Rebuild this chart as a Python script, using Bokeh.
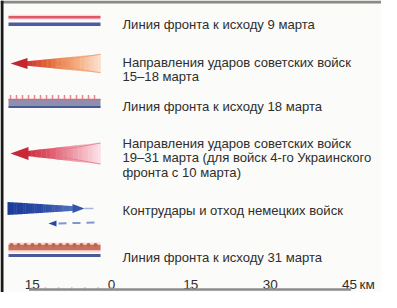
import numpy as np
from bokeh.plotting import figure
from bokeh.models import Range1d
from bokeh.embed import file_html
from bokeh.resources import INLINE
from bokeh.core.properties import value

# ---- data ----
legend_lines = [
    ["Линия фронта к исходу 9 марта"],
    ["Направления ударов советских войск", "15–18 марта"],
    ["Линия фронта к исходу 18 марта"],
    ["Направления ударов советских войск", "19–31 марта (для войск 4-го Украинского", "фронта с 10 марта)"],
    ["Контрудары и отход немецких войск"],
    ["Линия фронта к исходу 31 марта"],
]
scale_km = [-15, 0, 15, 30, 45]
scale_tick_labels = ["15", "0", "15", "30", "45"]
scale_unit = "км"

# ---- layout (pixel coordinates of the picture) ----
W, H = 381, 292
first_baselines = [24, 61.5, 105.5, 142.5, 210, 256.5]
line_step = 14.5
TEXT_X = 122
FONT = "Liberation Sans"
TXT_COL = "#2e2e2e"
BG = "#fbfbf9"

p = figure(width=W, height=H, x_range=Range1d(0, W), y_range=Range1d(H, 0),
           output_backend="svg", toolbar_location=None, min_border=0,
           x_axis_location=None, y_axis_location=None)
p.grid.visible = False
p.outline_line_color = None
p.background_fill_color = BG
p.border_fill_color = BG

# legend texts
tx, ty, tt = [], [], []
for lines, b in zip(legend_lines, first_baselines):
    for i, s in enumerate(lines):
        tx.append(TEXT_X); ty.append(b + i * line_step); tt.append(s)
p.text(x=tx, y=ty, text=tt, text_font=value(FONT), text_font_size="13.1px",
       text_color=TXT_COL, text_align="left", text_baseline="alphabetic")


def hexmix(c0, c1, t):
    a = np.array([int(c0[i:i + 2], 16) for i in (1, 3, 5)])
    b = np.array([int(c1[i:i + 2], 16) for i in (1, 3, 5)])
    c = (a + (b - a) * t).round().astype(int)
    return "#%02x%02x%02x" % tuple(c)


def grad_band(x0, x1, yc, hw0, hw1, stops, n=30):
    xs, ys, cols = [], [], []
    edges = np.linspace(x0, x1, n + 1)
    for i in range(n):
        a, b = edges[i], edges[i + 1]
        ha = hw0 + (hw1 - hw0) * (a - x0) / (x1 - x0)
        hb = hw0 + (hw1 - hw0) * (b - x0) / (x1 - x0)
        t = (i + 0.5) / n
        k = min(int(t * (len(stops) - 1)), len(stops) - 2)
        lt = t * (len(stops) - 1) - k
        cols.append(hexmix(stops[k], stops[k + 1], lt))
        xs.append([a, b + 0.4, b + 0.4, a])
        ys.append([yc - ha, yc - hb, yc + hb, yc + ha])
    p.patches(xs=xs, ys=ys, fill_color=cols, line_color=None)


# frame edges of the original scan
p.line([0, W], [1.5, 1.5], line_width=3, line_color="#8a8a82")
p.line([1.5, 1.5], [0, H], line_width=3, line_color="#1a1a1a")

# ---- item 1: front line 9 March ----
p.line([8, 100], [16.7, 16.7], line_width=5, line_color="#f8d8dc")
p.line([8, 100], [16.7, 16.7], line_width=2.5, line_color="#e05868")
p.line([8, 100], [23.8, 23.8], line_width=3.5, line_color="#4c5c9e")

# ---- item 2: Soviet strikes 15-18 March ----
grad_band(24, 100, 63, 2.0, 9.5, ["#c83030", "#e46a3c", "#f3a87a", "#fbe2d0"])
p.line([55, 100], [60.5, 53.8], line_width=1, line_color="#ee9a6a", line_alpha=0.8)
p.line([55, 100], [65.5, 72.2], line_width=1, line_color="#ee9a6a", line_alpha=0.8)
p.patch([10, 27, 27], [63, 57.5, 68.5], fill_color="#c4262e", line_color=None)

# ---- item 3: front line 18 March ----
p.line([8, 100], [102.5, 102.5], line_width=8, line_color="#8c90b0")
p.line([8, 100], [99, 99], line_width=1.5, line_color="#d86878")
p.line([8, 100], [106.5, 106.5], line_width=2, line_color="#4a5896")
tk = np.arange(10, 100, 6)
p.segment(x0=tk, y0=[94.5] * len(tk), x1=tk, y1=[98.5] * len(tk), line_width=1.5, line_color="#e88494")

# ---- item 4: Soviet strikes 19-31 March ----
grad_band(26, 100, 153, 2.5, 11, ["#cc2c3c", "#e05a6c", "#f0a0ae", "#fce4ea"])
p.line([55, 100], [150.5, 142.5], line_width=1, line_color="#e07888", line_alpha=0.8)
p.line([55, 100], [155.5, 163.5], line_width=1, line_color="#e07888", line_alpha=0.8)
p.patch([10, 28, 28], [153, 146.5, 159.5], fill_color="#c82838", line_color=None)

# ---- item 5: German counterattacks and retreat ----
grad_band(7, 74, 208, 6.5, 2.3, ["#1c3a9a", "#2a4aa6", "#5270bc"])
p.patch([84, 72, 72], [208, 203.5, 212.5], fill_color="#3454aa", line_color=None)
p.line([84, 93], [208, 208], line_width=1.5, line_color="#a8b6dc")
p.patch([48, 56, 56], [223, 220, 226], fill_color="#2848a8", line_color=None)
p.line([58, 95], [223, 222], line_width=2, line_color="#8096cc", line_dash="8 6")

# ---- item 6: front line 31 March ----
p.line([8, 100], [247, 247], line_width=10, line_color="#f6dcd6")
p.line([8, 100], [247, 247], line_width=5.5, line_color="#c8705e")
bx = np.arange(11, 100, 7)
p.scatter(x=bx, y=[244.5] * len(bx), size=4, marker="circle", fill_color="#c06450", line_color=None)
p.line([8, 100], [255, 255], line_width=3, line_color="#4a5a98")

# ---- scale bar ----
p.extra_x_ranges = {"km": Range1d((0 - 111) / 5.289, (W - 111) / 5.289)}
p.text(x=scale_km, y=[284] * len(scale_km), text=scale_tick_labels, x_range_name="km",
       text_font=value(FONT), text_font_size="13.5px", text_color=TXT_COL,
       text_align="center", text_baseline="alphabetic")
p.text(x=[scale_km[-1]], y=[284], text=[scale_unit], x_range_name="km", x_offset=10,
       text_font=value(FONT), text_font_size="13.5px", text_color=TXT_COL,
       text_align="left", text_baseline="alphabetic")
p.line([scale_km[0] - 0.6, scale_km[-1] + 0.3], [289, 289], x_range_name="km",
       line_width=2.5, line_color="#8c8c8c")
sk = np.arange(scale_km[0], scale_km[1] + 0.1, 2.5)
p.segment(x0=sk, y0=[287] * len(sk), x1=sk, y1=[288.5] * len(sk), x_range_name="km",
          line_width=1.5, line_color="#9a9a9a")
p.segment(x0=scale_km[2:4], y0=[286.5] * 2, x1=scale_km[2:4], y1=[288.5] * 2, x_range_name="km",
          line_width=2, line_color="#9a9a9a")

open("out.html", "w").write(file_html(p, INLINE))
